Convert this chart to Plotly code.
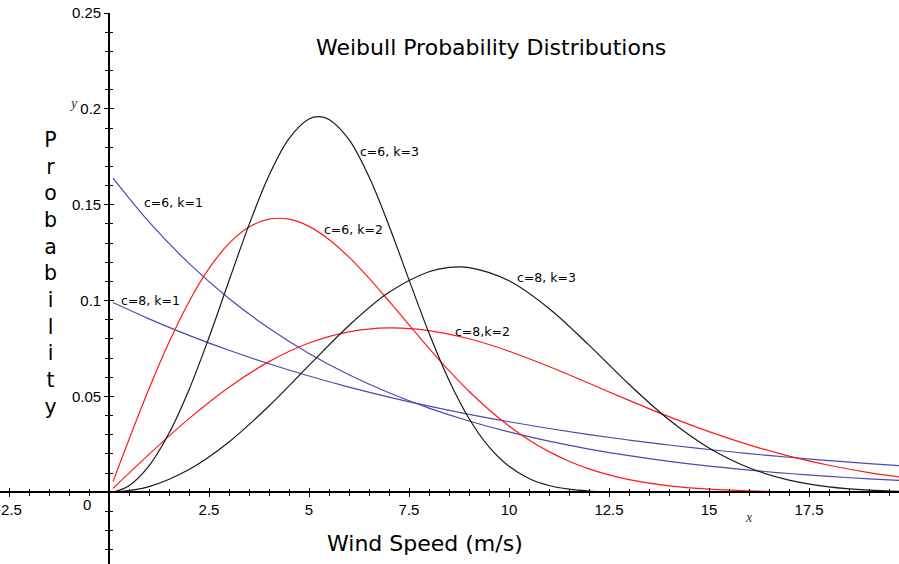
import plotly.graph_objects as go

# ---------------- data ----------------
x_coarse = [0.1, 1, 2, 3, 4, 5, 6, 7, 8, 8.5, 9, 10, 11, 12, 13, 14, 15, 16, 17, 18, 19, 20]
x_coarse_b = [0.1, 1, 2, 3, 4, 5, 6, 7, 8, 9, 10, 11, 12, 13, 14, 15, 16, 17, 18, 19, 20]
x_fine = [0.1, 0.5, 1, 1.5, 2, 2.5, 3, 3.5, 4, 4.5, 5, 5.25, 5.5, 6, 6.5, 7, 7.5, 8, 8.5, 9, 9.5,
          10, 10.5, 11, 11.5, 12, 12.5, 13, 14, 15, 16, 17, 18, 19, 20]
x_fine_r = [0.1, 0.5, 1, 1.5, 2, 2.5, 3, 3.5, 4, 4.5, 5, 5.5, 6, 6.5, 7, 7.5, 8, 8.5, 9, 9.5,
            10, 10.5, 11, 11.5, 12, 12.5, 13, 14, 15, 16, 17, 18, 19, 20]

# blue, "c=6, k=1"
y_c6_k1 = [0.16391, 0.14108, 0.11942, 0.10109, 0.08557, 0.07243, 0.06131, 0.05190, 0.04393,
           0.03719, 0.03148, 0.02665, 0.02256, 0.01909, 0.01616, 0.01368, 0.01158, 0.00980,
           0.00830, 0.00702, 0.00595]
# blue, "c=8, k=1"
y_c8_k1 = [0.09900, 0.09048, 0.08187, 0.07408, 0.06703, 0.06065, 0.05488, 0.04966, 0.04493,
           0.04066, 0.03679, 0.03329, 0.03012, 0.02725, 0.02466, 0.02231, 0.02019, 0.01827,
           0.01653, 0.01496, 0.01353]
# red, "c=6, k=2"
y_c6_k2 = [0.005554, 0.027586, 0.05403, 0.078284, 0.09943, 0.116753, 0.12980, 0.138361, 0.14249,
           0.142446, 0.13871, 0.131875, 0.12263, 0.111673, 0.09970, 0.087338, 0.07512, 0.063466,
           0.05270, 0.043023, 0.03454, 0.027283, 0.02120, 0.016218, 0.01221, 0.009051,
           0.006605, 0.003360, 0.001608, 0.000725, 0.000308, 0.000123, 0.0000465, 0.0000166]
# red, "c=8,k=2"
y_c8_k2 = [0.00200, 0.01980, 0.03843, 0.05484, 0.06817, 0.07788, 0.08372, 0.08577, 0.08437,
           0.08007, 0.07358, 0.06560, 0.05686, 0.04797, 0.03944, 0.03162, 0.02474, 0.01890,
           0.01410, 0.01028, 0.00733]
# black, "c=6, k=3"
y_c6_k3 = [0.000139, 0.003470, 0.013825, 0.030765, 0.053535, 0.080749, 0.110312, 0.139507,
           0.165240, 0.184448, 0.194663, 0.195904, 0.194480, 0.183940, 0.164562, 0.139066,
           0.110805, 0.083063, 0.058443, 0.038495, 0.023673, 0.013553, 0.007203, 0.003543,
           0.001608, 0.000671, 0.000257, 0.0000897, 0.0000083, 0.0000005, 0.0, 0.0, 0.0, 0.0,
           0.0]
# black, "c=8, k=3"
y_c8_k3 = [0.00003, 0.002997, 0.011904, 0.026281, 0.045024, 0.066187, 0.087019, 0.104317,
           0.115065, 0.117286, 0.117221, 0.110364, 0.095908, 0.076740, 0.056346, 0.037816,
           0.023097, 0.012779, 0.006373, 0.002850, 0.001137, 0.000403]

curve_labels = ["c=6, k=1", "c=8, k=1", "c=6, k=2", "c=8,k=2", "c=6, k=3", "c=8, k=3"]
label_x = [0.82, 0.25, 5.33, 8.6, 6.22, 10.15]
label_y = [0.151, 0.0998, 0.137, 0.0837, 0.178, 0.112]

x_tick_vals = [-2.5, 2.5, 5, 7.5, 10, 12.5, 15, 17.5]
x_tick_text = ["-2.5", "2.5", "5", "7.5", "10", "12.5", "15", "17.5"]
y_tick_vals = [0.05, 0.1, 0.15, 0.2, 0.25]
y_tick_text = ["0.05", "0.1", "0.15", "0.2", "0.25"]

title_text = "Weibull Probability Distributions"
x_title = "Wind Speed (m/s)"
y_title = "Probability"

# ---------------- figure ----------------
W, H = 899, 564
x_range = [-2.725, 19.75]
y_range = [-0.0374, 0.25]
y_dom = [0, 1 - 13 / H]

BLUE = "#4a4aae"
RED = "#ff1a1a"
BLACK = "#1a1a1a"

series = [
    (x_coarse_b, y_c6_k1, BLUE),
    (x_coarse_b, y_c8_k1, BLUE),
    (x_fine_r, y_c6_k2, RED),
    (x_coarse_b, y_c8_k2, RED),
    (x_fine, y_c6_k3, BLACK),
    (x_coarse, y_c8_k3, BLACK),
]

fig = go.Figure()
for xs, ys, col in series:
    fig.add_trace(go.Scatter(x=xs, y=ys, mode="lines",
                             line=dict(color=col, width=1.2, shape="spline", smoothing=1.0),
                             hoverinfo="skip", showlegend=False))

# helper empty traces so that the tick-only overlay axes are rendered
fig.add_trace(go.Scatter(x=[], y=[], xaxis="x2", yaxis="y", showlegend=False))
fig.add_trace(go.Scatter(x=[], y=[], xaxis="x", yaxis="y2", showlegend=False))

# positions of the crossing axes (through the origin)
x_axis_pos = y_dom[0] + (0 - y_range[0]) / (y_range[1] - y_range[0]) * (y_dom[1] - y_dom[0])
y_axis_pos = (0 - x_range[0]) / (x_range[1] - x_range[0])

tick_font = dict(family="Liberation Sans, Arial, sans-serif", size=15, color="black")

common_x = dict(range=x_range, domain=[0, 1], anchor="free", position=x_axis_pos,
                showgrid=False, zeroline=False, fixedrange=True, automargin=False,
                ticklabeloverflow="allow")
common_y = dict(range=y_range, domain=y_dom, anchor="free", position=y_axis_pos,
                showgrid=False, zeroline=False, fixedrange=True, automargin=False,
                ticklabeloverflow="allow")

fig.update_layout(
    width=W, height=H,
    margin=dict(l=0, r=0, t=0, b=0, pad=0, autoexpand=False),
    paper_bgcolor="white", plot_bgcolor="white",
    showlegend=False,
    xaxis=dict(**common_x, showline=True, linecolor="black", linewidth=1.6,
               tickmode="array", tickvals=x_tick_vals, ticktext=x_tick_text,
               ticks="outside", ticklen=4, tickwidth=1.2, tickcolor="black",
               tickfont=tick_font,
               minor=dict(tick0=0, dtick=0.5, ticks="outside", ticklen=3,
                          tickwidth=1, tickcolor="black", showgrid=False)),
    xaxis2=dict(**common_x, overlaying="x", showline=False, showticklabels=False,
                tickmode="array", tickvals=x_tick_vals,
                ticks="inside", ticklen=4, tickwidth=1.2, tickcolor="black",
                minor=dict(tick0=0, dtick=0.5, ticks="inside", ticklen=3,
                           tickwidth=1, tickcolor="black", showgrid=False)),
    yaxis=dict(**common_y, side="left", showline=True, linecolor="black", linewidth=1.6,
               tickmode="array", tickvals=y_tick_vals, ticktext=y_tick_text,
               ticks="outside", ticklen=4, tickwidth=1.2, tickcolor="black",
               tickfont=tick_font,
               minor=dict(tick0=0, dtick=0.01, ticks="outside", ticklen=3,
                          tickwidth=1, tickcolor="black", showgrid=False)),
    yaxis2=dict(**common_y, overlaying="y", side="left", showline=False,
                showticklabels=False, tickmode="array", tickvals=y_tick_vals,
                ticks="inside", ticklen=4, tickwidth=1.2, tickcolor="black",
                minor=dict(tick0=0, dtick=0.01, ticks="inside", ticklen=3,
                           tickwidth=1, tickcolor="black", showgrid=False)),
)

label_font = dict(family="DejaVu Sans, sans-serif", size=12.5, color="black")
for txt, lx, ly in zip(curve_labels, label_x, label_y):
    fig.add_annotation(x=lx, y=ly, xref="x", yref="y", text=txt, showarrow=False,
                       xanchor="left", yanchor="middle", font=label_font)

# origin label
fig.add_annotation(x=-0.55, y=-0.0066, xref="x", yref="y", text="0", showarrow=False,
                   xanchor="center", yanchor="middle", font=tick_font)

# small italic axis names
ital = dict(family="Liberation Serif, Times New Roman, serif", size=14, color="#333")
fig.add_annotation(x=16.0, y=-0.0134, xref="x", yref="y", text="<i>x</i>", showarrow=False,
                   xanchor="center", yanchor="middle", font=ital)
fig.add_annotation(x=-0.9, y=0.2027, xref="x", yref="y", text="<i>y</i>", showarrow=False,
                   xanchor="center", yanchor="middle", font=ital)

# title and axis titles
big = dict(family="DejaVu Sans, sans-serif", size=22, color="black")
fig.add_annotation(x=491 / W, y=1 - 47 / H, xref="paper", yref="paper", text=title_text,
                   showarrow=False, xanchor="center", yanchor="middle", font=big)
fig.add_annotation(x=425 / W, y=1 - 543 / H, xref="paper", yref="paper", text=x_title,
                   showarrow=False, xanchor="center", yanchor="middle", font=big)
fig.add_annotation(x=50 / W, y=1 - 273.5 / H, xref="paper", yref="paper",
                   text="<br>".join(list(y_title)), showarrow=False,
                   xanchor="center", yanchor="middle", align="center",
                   font=dict(family="DejaVu Sans, sans-serif", size=20.5, color="black"))

fig.write_html("out.html", config={"displayModeBar": False},
               post_script="document.body.style.margin='0';document.body.style.overflow='hidden';")
